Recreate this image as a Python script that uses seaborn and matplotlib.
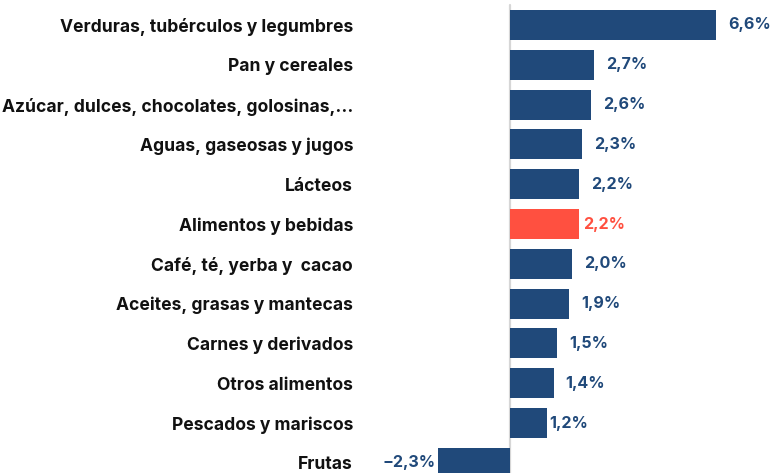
import matplotlib
matplotlib.use("Agg")
import matplotlib.pyplot as plt
import seaborn as sns
import pandas as pd

categories = [
    "Verduras, tubérculos y legumbres",
    "Pan y cereales",
    "Azúcar, dulces, chocolates, golosinas,...",
    "Aguas, gaseosas y jugos",
    "Lácteos",
    "Alimentos y bebidas",
    "Café, té, yerba y  cacao",
    "Aceites, grasas y mantecas",
    "Carnes y derivados",
    "Otros alimentos",
    "Pescados y mariscos",
    "Frutas",
]
values = [6.6, 2.7, 2.6, 2.3, 2.2, 2.2, 2.0, 1.9, 1.5, 1.4, 1.2, -2.3]
highlight = "Alimentos y bebidas"

BLUE = "#20497A"
RED = "#FF5040"

sns.set_theme(style="white")
plt.rcParams["font.family"] = ["Inter", "DejaVu Sans"]

df = pd.DataFrame({"cat": categories, "val": values})
df["grp"] = ["hi" if c == highlight else "base" for c in categories]

fig = plt.figure(figsize=(7.71, 4.73), dpi=100)
W, H = 771, 473
ax_left, ax_right = 360, 771
ax = fig.add_axes([ax_left / W, 0, (ax_right - ax_left) / W, 1])

sns.barplot(data=df, x="val", y="cat", hue="grp", palette={"base": BLUE, "hi": RED},
            dodge=False, legend=False, width=0.75, ax=ax, orient="h",
            saturation=1, linewidth=0)

scale = 31.2  # px per unit
x0 = 510
ax.set_xlim(-(x0 - ax_left) / scale, (ax_right - x0) / scale)
c0, pitch = 25, 39.8
ax.set_ylim((H - c0) / pitch, -c0 / pitch)

ax.axvline(0, ymin=0, ymax=1 - 5 / H, color="#d6d6d6", lw=1.6, zorder=0)

for s in ax.spines.values():
    s.set_visible(False)
ax.set_xticks([])
ax.set_xlabel("")
ax.set_ylabel("")
ax.tick_params(axis="y", length=0, pad=5)
for lab in ax.get_yticklabels():
    lab.set_fontweight("bold")
    lab.set_fontsize(12.6)
    lab.set_color("#111111")

# label gap (px) style: default 12, a few labels sit closer in the original
gap_px = {highlight: 4, "Pescados y mariscos": 2}

for i, (c, v) in enumerate(zip(categories, values)):
    col = RED if c == highlight else BLUE
    txt = f"{v:.1f}%".replace(".", ",").replace("-", "−")
    if v >= 0:
        g = gap_px.get(c, 12)
        ax.text(v + g / scale, i, txt, va="center", ha="left", color=col,
                fontsize=11.6, fontweight="bold")
    else:
        ax.text(v - 3 / scale, i, txt, va="center", ha="right", color=col,
                fontsize=11.6, fontweight="bold")

fig.savefig("out.png", dpi=100)
